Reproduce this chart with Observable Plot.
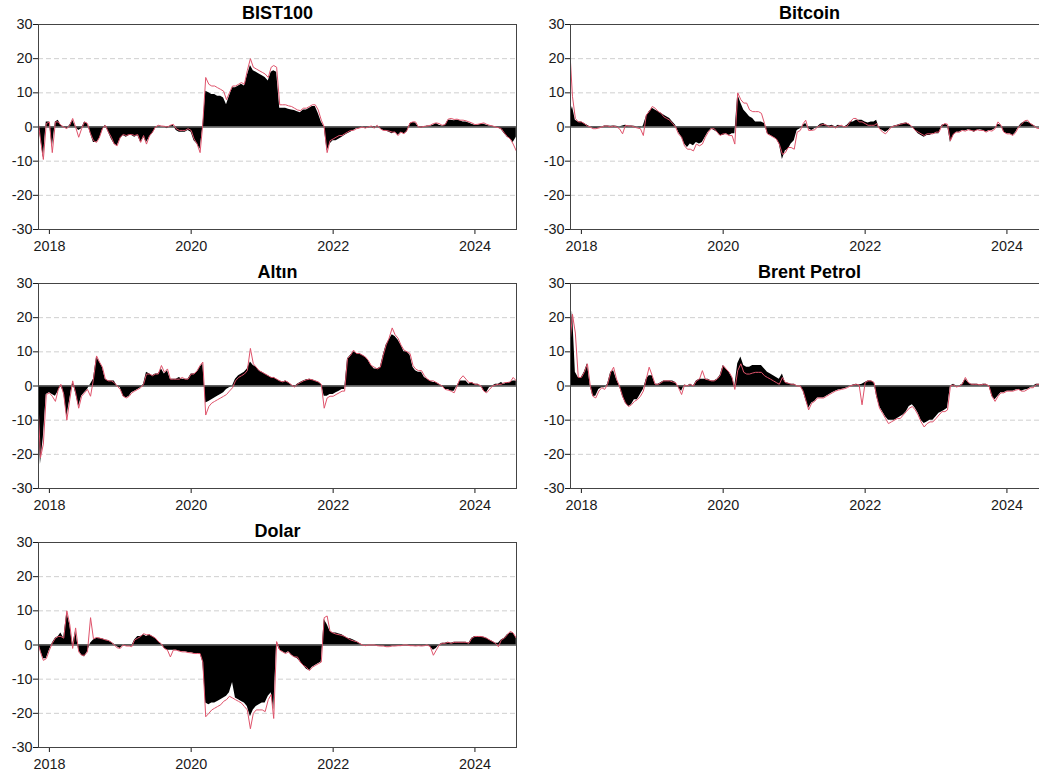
<!DOCTYPE html>
<html><head><meta charset="utf-8">
<script src="https://cdn.jsdelivr.net/npm/d3@7"></script>
<script src="https://cdn.jsdelivr.net/npm/@observablehq/plot@0.6"></script>
<style>
html,body{margin:0;padding:0;background:#fff;overflow:hidden;}
#wrap{position:relative;width:1039px;height:776px;overflow:hidden;background:#fff;}
.panel{position:absolute;width:532px;height:259px;}
.panel svg{max-width:none !important;}
</style></head><body><div id="wrap"></div>
<script>
// Panel titles
const titles = ["BIST100", "Bitcoin", "Altın", "Brent Petrol", "Dolar"];
const yTicks = [-30, -20, -10, 0, 10, 20, 30];
const gridValues = [-20, -10, 10, 20];
const xTickYears = [2018, 2020, 2022, 2024];

// Sampling dates: 2017-11-06, then the 1st and 16th of each month up to 2024-08-01
const startDate = new Date(Date.UTC(2017, 10, 6));
const endDate = new Date(Date.UTC(2024, 7, 1));
const dates = [startDate];
for (let y = 2017; y <= 2024; y++) for (let m = 0; m < 12; m++) for (const d of [1, 16]) {
  const t = new Date(Date.UTC(y, m, d));
  if (t > startDate && t <= endDate) dates.push(t);
}

// Rows: 2017 (4 values), 2018..2023 (24 each), 2024 (15)
const bist100Area = [
  0.5, -3, -9, 1.5,
  1.5, -6, 1.5, 2, 0.5, 0, -0.5, 0.5, 2, 0, -1, -0.5, 1.5, 1, -2, -4.5, -4.5, -3.5, -1, 0.5, -1.5, -3.5, -5, -5.5,
  -3.5, -2.5, -3, -2.5, -2.5, -3, -2.5, -4.5, -3, -4.5, -3, -2, -0.5, 0.3, 0, 0, -0.5, 0.3, 0.5, -1, -1.5, -1.5, -1.5, -1,
  -1.5, -4, -5, -6.5, 0, 10.5, 10, 9.5, 9.5, 9, 9, 8.5, 6.5, 9, 11.5, 11.5, 12, 12.5, 12, 15, 18, 16.5, 16, 15.5,
  15, 14.5, 13.5, 16, 16.5, 16, 5.5, 5.5, 5.5, 5.2, 5, 4.8, 4.5, 4.2, 5, 5, 5.5, 6, 6, 4, 1.5, 0, -7, -5,
  -4, -4, -3.5, -3, -2.5, -2, -1.5, -1, -0.5, -0.5, 0, -0.5, -0.3, 0, -0.5, 0.3, -0.5, -1, -1.2, -1.5, -2, -1.5, -2.5, -1.5,
  -2, -1.5, 1, 1.3, 1.2, 0, -0.3, 0, 0.3, 0.2, 0.5, 1, 0.5, 0.3, 0.5, 2, 2, 1.8, 2, 1.8, 1.5, 1.5, 1.2, 0.8,
  0.5, 0.5, 0.8, 0.8, 0.5, 0.3, 0.2, 0, -0.3, -0.8, -2, -3, -3.5, -4.5, -3
];
const bist100Line = [
  1, -3.5, -9.5, 1,
  1.5, -7.5, 1.5, 1.5, 0.5, 0, -0.5, 0.5, 2.5, 0, -3, -0.5, 1.5, 1, -2, -4, -4.5, -3, -0.5, 0.5, -1.5, -3, -5, -5.5,
  -3, -2.2, -2.5, -2.2, -2.2, -2.5, -2.2, -4.5, -2.5, -5, -2.5, -1.5, 0, 0.5, 0.3, 0.2, 0, 0.5, 0.8, -0.5, -1, -1, -1, -0.5,
  -1, -3.5, -5, -7.5, 1, 14.5, 12.5, 12, 12, 11.5, 11, 10.5, 8, 10, 12, 12, 12.5, 13, 12.5, 16.5, 20, 17.5, 17, 16.5,
  16, 15.5, 14.5, 17.5, 18, 17.5, 6.5, 6.5, 6.5, 6.2, 6, 5.5, 5, 4.8, 5.5, 5.5, 6, 6.5, 6.5, 5, 2, 0, -7.5, -4,
  -3.5, -3, -2.5, -2.5, -2, -1.5, -1, -1, -0.5, -0.3, 0, -0.3, 0, 0.3, -0.3, 0.5, -0.5, -1, -1, -1.2, -1.5, -1.5, -2.5, -1.5,
  -2, -1, 1.2, 1.5, 1.5, 0, 0, 0.2, 0.3, 0.5, 1, 1.2, 1, 0.5, 0.7, 2.3, 2.5, 2.2, 2.3, 2, 2, 1.8, 1.5, 1.2,
  0.7, 0.8, 1, 1.2, 0.8, 0.5, 0.3, 0, -0.2, -0.5, -1.8, -2.8, -3.5, -5, -7
];

const bitcoinArea = [
  4, 6, 2, 1.5,
  1.5, 1, 0.5, 0, -0.3, -0.5, -0.3, 0, 0.3, 0.3, 0.2, 0.3, 0.2, 0, 0.3, 0.5, 0.3, 0.3, 0.2, 0, -0.3, 0.3, 3, 4.5,
  5.5, 5, 4.5, 4, 3.5, 3, 2.5, 1.5, 0.5, -1.5, -3, -5, -6, -5, -5.5, -4.5, -5, -4.5, -3, -1.5, -0.5, -1, -1.5, -2.5,
  -2.5, -2, -2.5, -2, -2, 9.5, 7, 5, 4, 3, 2.5, 1.5, 1.5, 1.5, 1, -2, -2.5, -3, -3.5, -5, -9.5, -7, -6.5, -5,
  -4, -1, -0.5, 0.5, 1, -0.5, -1, -0.5, 0, 0.8, 1, 0.5, 0.3, 0.5, 0, 0.5, 0.3, 0, 0.5, 1.5, 1.5, 2, 2, 2,
  1.5, 1.2, 1.5, 1.5, 2, -0.5, -1, -1.5, -1, 0, 0.3, 0.5, 0.8, 1, 1.2, 0.8, 0, -1, -2, -2.5, -3, -2.5, -2.5, -2,
  -2, -2, 0.5, 0.8, 0.5, -4.5, -2.5, -1.5, -1.5, -1, -1.2, -0.8, -1, -1.5, -1, -0.8, -1, -1.5, -1, -1, -0.5, 0.8, 0.5, -1.5,
  -2, -2, -2.5, -1.5, 0, 1, 1.5, 1.5, 1, 0.5, 0, 0, -0.5, 0, 0
];
const bitcoinLine = [
  19, 9, 2.5, 1.5,
  1.5, 1, 0.3, 0, -0.5, -0.5, -0.3, 0, 0.3, 0.3, 0, 0.3, 0, -0.5, -2, 0.5, 0.3, 0.3, 0, -0.3, -0.5, -2.5, 3.5, 4.5,
  6, 5.5, 4.5, 4, 3, 2.5, 2, 1, 0, -2, -3, -5.5, -6.5, -6.5, -7, -5, -5.5, -5, -3, -1.5, -0.5, -0.5, -1.5, -2.5,
  -2, -2, -2.5, -2.5, -5, 10, 8, 7, 7, 5, 4.5, 4.5, 4.5, 4, 1, -2, -2.5, -3, -3.5, -5, -8, -7.5, -6, -6,
  -6.5, -1.5, -1, 1, 2, -1, -1, -0.8, 0, 0.5, 0.8, 0.5, 0, 0.3, -0.3, 0.3, 0.5, 0, 0.3, 1.5, 2.5, 2.5, 1.5, 1.5,
  1, 0.5, 0.5, 0.5, 1, -0.5, -1.5, -2, -1, 0, 0.3, 0.5, 0.8, 1, 1.2, 0.8, 0, -1, -1.5, -2, -2.5, -2, -2, -2,
  -1.5, -1.5, 0.5, 1, 0.8, -4, -2, -1.5, -1.5, -1, -1.2, -0.8, -1, -1.2, -0.8, -1, -1, -1.5, -1, -1.2, -0.5, 1.5, 0.5, -1.5,
  -2, -2, -2.5, -1.5, 0, 0.8, 1.8, 2, 1, 0.5, -0.3, -0.5, -0.5, 0, 0
];

const altinArea = [
  -10, -23, -15, -2.5,
  -2, -2.5, -3, -1.5, 0, -2, -9, -4, 1, -2, -6, -3, -2, -1, 0.5, 2, 8.5, 7, 5.5, 2, 1.5, 1.5, 1.5, 0,
  -0.5, -3, -3.5, -3, -2, -1.5, -1, -0.5, 0.5, 4, 3.5, 3, 3.5, 3.5, 5, 3.5, 4.5, 2, 2, 2, 2.5, 2, 2, 2,
  3.5, 3.5, 4, 5.5, 6.5, -5, -4.5, -4, -3.5, -3, -2.5, -2, -1, -0.5, 0, 2, 3, 3.5, 4, 5, 7, 6, 5.5, 4.5,
  4, 3.5, 3, 2.5, 2.5, 2, 1.5, 1.2, 1.5, 1, 0.3, -0.3, 0.5, 1, 1.5, 1.8, 2, 1.8, 1.5, 1.2, 0.5, -3, -3, -2.5,
  -2.5, -2, -1.5, -1, -1, 8, 9, 10, 9.5, 9.5, 9, 8.5, 7.5, 6, 5, 5, 5.5, 9, 12, 13.5, 15, 14.5, 13.5, 12,
  10, 10, 9, 5.5, 4.5, 4, 4, 2.5, 2, 1.5, 1, 1, 0.5, 0, -1, -1, -1.5, -1.5, 0, 1.5, 1.5, 1.5, 0.5, 1,
  0.5, 0.5, 0, -1.5, -2, -0.5, 0, 0.5, 0.5, 1, 0.5, 1, 1, 1.5, 1.5
];
const altinLine = [
  -8, -21, -17, -2.5,
  -2, -3, -4.5, -1, 0.5, -2.5, -10, -4, 1.5, -2, -6.5, -3, -2, -1, -3, 2, 8.8, 7, 5.5, 2, 1.5, 1.5, 1, 0,
  -1, -3, -3.5, -3, -2, -1.5, -1, -0.5, 0.5, 3.5, 3.5, 3, 3.5, 3.5, 6, 4, 5, 2, 2, 2, 2, 2.5, 2, 2,
  3.5, 3.5, 4.5, 6, 7, -8.5, -6, -5, -4.5, -4, -3.5, -3, -2.5, -1.5, -0.5, 1.5, 2.5, 3, 3.5, 4.5, 11, 6.5, 5.5, 4.5,
  4, 3.5, 3, 2.5, 2.5, 2, 1.5, 1.2, 1.5, 1, 0.3, -0.3, 0.5, 1, 1.5, 1.8, 2, 1.8, 1.5, 1.2, 0.5, -6.5, -3.5, -3,
  -3, -2.5, -2, -1.5, -1.5, 8, 9, 10.5, 9.5, 9.5, 9, 8.5, 7.5, 6, 5.5, 5, 5.5, 9, 12, 14, 17, 15, 14, 12,
  10.5, 10, 9.5, 6, 5, 4.5, 4.5, 3, 2, 1.5, 1.5, 1, 0.5, 0, -1, -1.2, -1.5, -2, 0, 2, 3, 2, 1, 1,
  0.5, 0.5, 0, -1.5, -2, -1, 0, 0.3, 0.5, 0.5, 1, 1, 1.2, 2.5, 1.5
];

const brentArea = [
  14, 22, 4, 2.5,
  2.5, 4, 6.5, 0, -3, -3, -1, -0.5, -0.5, 0.5, 4, 4.5, 2, 0, -3, -5, -6, -5.5, -4, -4, -2.5, -1, 2, 3,
  3, 0.5, 0.5, 1, 1.5, 1.5, 1.5, 1.5, 1, -0.5, -1.5, 0.3, 0, 0.5, 0, 1.5, 2, 2, 2, 2, 1.5, 1.5, 2, 3,
  6, 5, 4, 2.5, 0, 6.5, 8.5, 6, 5.5, 5.5, 6, 6, 6, 6, 5, 4, 3.5, 3, 2.5, 2, 3.5, 1, 0.8, 0.5,
  0.5, 0, 0, -1.5, -4, -6.5, -5, -4.5, -3.5, -3.5, -3.5, -3, -2.5, -2, -1.5, -1.2, -1, -0.8, -0.5, 0, 0.3, 0.5, 0.3, 0.5,
  1, 1.5, 1.5, 1, -3, -6, -7.5, -9, -10, -10, -10, -9.5, -9, -8.5, -7.5, -6, -5.5, -6.5, -8, -10, -11, -10.5, -10, -10,
  -9, -8, -7.5, -7, -6.5, 0, 0.5, 0, 0, 0.5, 2, 1, 0.5, 0.5, 0.5, 0.3, 0.5, 0.5, 0, -3, -4, -3, -2, -2,
  -1.5, -1.5, -1.5, -1.2, -1, -1.5, -1.2, -1, -0.5, 0, 0.5, 0.5, 0.5, 0.5, 0.5
];
const brentLine = [
  14, 21, 15.5, 2.5,
  2.5, 4, 6.5, 0, -3, -3.5, -1.5, -0.5, -1, 0.5, 4, 5.5, 2, 0, -3, -5, -6, -5.5, -4.5, -4, -3, -1.5, 2, 5.5,
  3, 0.5, 0.5, 1, 1.5, 1.5, 1.5, 1.2, 1, -0.5, -2.5, 0.3, 0, 0.5, 0, 1.5, 2, 4.5, 2, 1.8, 1.5, 1.5, 2, 3,
  6, 5, 4, 2.5, -1, 4.5, 6.5, 4, 3.5, 3.5, 3.8, 4, 4, 4, 3, 2.5, 2, 1.5, 1, 0.5, 2.5, 1, 0.8, 0.5,
  0.5, 0, 0, -1.5, -4, -7, -5, -4.5, -3.5, -3.5, -3.5, -3, -2.5, -2, -1.5, -1.2, -1, -0.8, -0.5, 0, 0.3, 0.5, 0.3, -5.5,
  1, 1.5, 1.5, 1, -3, -6.5, -8, -9.5, -11, -10.5, -10, -9.5, -9.5, -8.5, -7.5, -6.5, -6, -7, -8.5, -10.5, -12, -11, -10.5, -10.5,
  -9.5, -8.5, -7.5, -7.5, -7, 0, 0.3, -0.3, 0, 0.5, 2.5, 1, 0.5, 0.5, 0.5, 0.3, 0.5, 0.5, 0, -3, -4.5, -3, -2, -2,
  -1.5, -1.5, -1.5, -1.2, -1, -1.5, -1.5, -1, -0.5, -0.5, 0.5, 0.5, 0.5, 0.5, 0.5
];

const dolarArea = [
  0, -1.5, -4, -4,
  -1.5, 0.5, 2, 2.5, 3.5, 2, 9.5, 6, 0, 4, -1.5, -3, -3.5, -2, 0.5, 1.5, 2, 2, 1.8, 1.5, 1.3, 0.8, 0.2, -0.5,
  -1, 0, -0.3, -0.3, -0.3, 1.5, 2.5, 2.5, 3, 2.5, 3, 2.5, 2, 1, 0.3, -1, -1.5, -1.5, -1.5, -1.5, -1.8, -2, -2, -2.2,
  -2.3, -2.5, -2.5, -2.5, -5, -17, -17.5, -17, -17, -16.5, -16, -15.5, -15, -14, -11, -15.5, -16, -16.5, -17, -18, -21, -19, -18, -17.5,
  -17, -17, -15, -14, -19, 0.5, -1.5, -2, -2.5, -2, -3, -3.5, -4, -5, -6, -7, -7.5, -6.5, -6, -5.5, -5, 7.5, 6, 4,
  3.5, 3.5, 3.2, 3, 2.5, 2, 1.8, 1.5, 1, 0.5, 0, 0, 0, 0, 0, -0.2, -0.3, -0.3, -0.5, -0.5, -0.3, -0.3, -0.2, -0.2,
  0, 0, -0.2, -0.2, -0.3, -0.2, -0.3, -0.2, 0, -0.5, -1.5, -1, 0, 0.5, 0.5, 0.8, 0.5, 0.8, 0.8, 0.8, 0.8, 0.8, 0.5, 2,
  2.5, 2.5, 2.5, 2.3, 2, 1.5, 1, 0.5, 0.5, 1.5, 2, 3, 3.5, 3.5, 2
];
const dolarLine = [
  0, -2, -4.5, -4,
  -1.5, 0.5, 2, 2.5, 2.5, 2, 10, 6, -1, 5, -2, -3, -3, -2, 8, 1.8, 2.2, 2, 1.8, 1.5, 1.3, 0.8, 0, -0.8,
  -1, 0, -0.3, -0.3, -0.5, 1.5, 2, 2.5, 3.3, 3, 3, 2.5, 2, 1, 0.3, -1, -1.5, -3.5, -1.5, -1.5, -1.8, -2, -2, -2.2,
  -2.3, -2.5, -2.5, -2.5, -5, -21, -20, -19, -18.5, -18, -17.5, -16.5, -16, -15, -15.5, -16, -16.5, -17, -18, -19, -24.5, -20, -19, -19,
  -19, -19.5, -16, -14.5, -21.5, 1, -1.5, -2, -2.5, -2, -3, -3.5, -3.5, -5, -6, -6.5, -7.5, -6.5, -6, -5.5, -5, 8, 8.5, 4,
  3.5, 3.2, 3, 2.8, 2.5, 2, 1.5, 1.2, 1, 0.5, 0, -0.2, 0, 0, 0, -0.2, -0.3, -0.3, -0.5, -0.5, -0.3, -0.3, -0.2, -0.2,
  0, 0, -0.2, -0.2, -0.3, -0.2, -0.3, -0.2, 0, -0.5, -3, -1.5, 0, 0.5, 0.5, 0.8, 0.5, 0.8, 0.8, 0.8, 0.8, 0.8, 0.5, 2,
  2.5, 2.5, 2.5, 2.3, 2, 1.5, 1, 0.5, -0.5, 1.5, 2, 3, 4, 3.5, 2
];

const series = [
  [bist100Area, bist100Line],
  [bitcoinArea, bitcoinLine],
  [altinArea, altinLine],
  [brentArea, brentLine],
  [dolarArea, dolarLine]
];

const positions = [[0, 0], [532, 0], [0, 259], [532, 259], [0, 518.4]];
const xTicks = xTickYears.map(y => new Date(Date.UTC(y, 0, 1)));
const wrap = document.getElementById("wrap");

titles.forEach((title, i) => {
  const [areaVals, lineVals] = series[i];
  const n = Math.min(dates.length, areaVals.length, lineVals.length);
  const rows = d3.range(n).map(j => ({date: dates[j], area: areaVals[j], line: lineVals[j]}));
  const chart = Plot.plot({
    width: 532,
    height: 259,
    marginLeft: 38,
    marginRight: 16,
    marginTop: 24,
    marginBottom: 30,
    style: {fontFamily: "'Liberation Sans', Arial, sans-serif", fontSize: "14.4px", color: "#1a1a1a",
            background: "transparent", overflow: "visible", maxWidth: "none"},
    x: {type: "utc", domain: [startDate, new Date(Date.UTC(2024, 7, 2))], ticks: xTicks,
        tickFormat: d => String(d.getUTCFullYear()), tickSize: 5, tickPadding: 6, label: null},
    y: {domain: [-30, 30], ticks: yTicks, tickFormat: d => String(d), tickSize: 5, tickPadding: 1, label: null},
    marks: [
      Plot.ruleY(gridValues, {stroke: "#cfcfcf", strokeDasharray: "5,3", strokeWidth: 1}),
      Plot.areaY(rows, {x: "date", y: "area", fill: "black"}),
      Plot.ruleY([0], {stroke: "#555", strokeWidth: 1.3}),
      Plot.lineY(rows, {x: "date", y: "line", stroke: "#DF536B", strokeWidth: 1}),
      Plot.frame({stroke: "#444"}),
      Plot.text([title], {text: d => d, frameAnchor: "top", lineAnchor: "bottom", dy: -6,
        fontSize: 18, fontWeight: "bold", fill: "black"})
    ]
  });
  chart.style.maxWidth = "none";
  chart.style.width = "532px";
  const div = document.createElement("div");
  div.className = "panel";
  div.style.left = positions[i][0] + "px";
  div.style.top = positions[i][1] + "px";
  div.appendChild(chart);
  wrap.appendChild(div);
});
</script>
</body></html>
